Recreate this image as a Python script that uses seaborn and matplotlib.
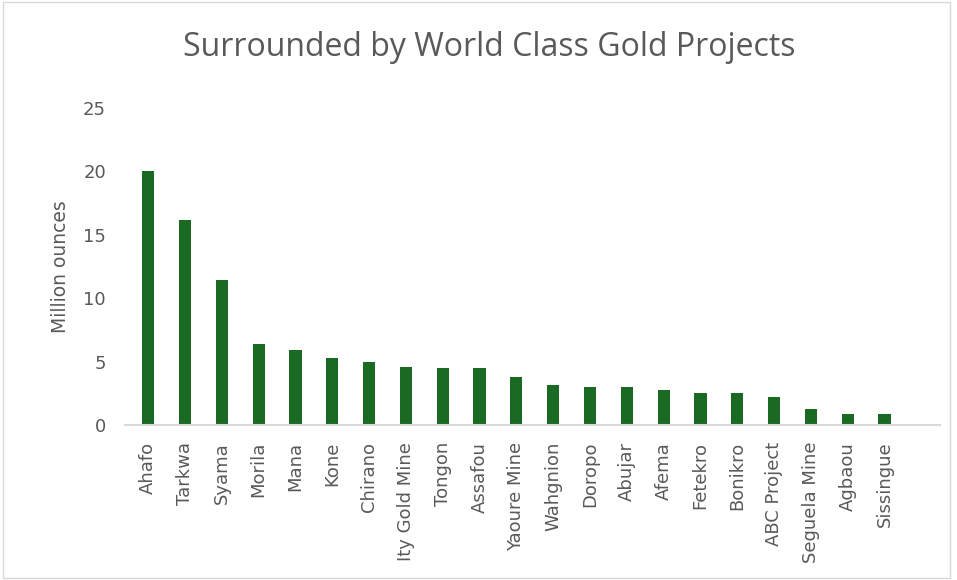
import matplotlib
matplotlib.use("Agg")
import matplotlib.pyplot as plt
import seaborn as sns
import pandas as pd
from matplotlib.patches import Rectangle

projects = ["Ahafo", "Tarkwa", "Syama", "Morila", "Mana", "Kone", "Chirano",
            "Ity Gold Mine", "Tongon", "Assafou", "Yaoure Mine", "Wahgnion",
            "Doropo", "Abujar", "Afema", "Fetekro", "Bonikro", "ABC Project",
            "Seguela Mine", "Agbaou", "Sissingue"]
ounces = [20.0, 16.2, 11.4, 6.4, 5.9, 5.3, 5.0,
          4.6, 4.5, 4.5, 3.8, 3.2,
          3.0, 3.0, 2.8, 2.5, 2.5, 2.2,
          1.3, 0.9, 0.9]
title = "Surrounded by World Class Gold Projects"
ylabel = "Million ounces"
yticks = [0, 5, 10, 15, 20, 25]

df = pd.DataFrame({"project": projects, "ounces": ounces})

sns.set_theme(style="white")
plt.rcParams["font.family"] = ["DejaVu Sans"]
text_color = "#595959"

fig = plt.figure(figsize=(9.57, 5.8), dpi=100)
ax = fig.add_axes([0.131, 0.267, 0.851, 0.547])

sns.barplot(data=df, x="project", y="ounces", color="#1b6a23", width=0.33,
            saturation=1, ax=ax, edgecolor="#1b6a23", linewidth=0)

ax.set_ylim(0, 25)
ax.set_xlim(-0.62, 21.5)
ax.set_yticks(yticks)
ax.set_yticklabels([str(v) for v in yticks], fontsize=13, color=text_color)
ax.tick_params(axis="x", labelrotation=90, labelsize=13, colors=text_color, length=0, pad=12)
ax.tick_params(axis="y", length=0, pad=14)
for lab in ax.get_xticklabels():
    lab.set_color(text_color)
ax.set_xlabel("")
ax.set_ylabel(ylabel, fontsize=13.5, color=text_color, labelpad=9)
for s in ["top", "right", "left"]:
    ax.spines[s].set_visible(False)
ax.spines["bottom"].set_color("#d9d9d9")
ax.spines["bottom"].set_linewidth(1.5)
ax.grid(False)

fig.text(0.511, 0.918, title, ha="center", va="center", fontsize=23,
         color=text_color, family=["Open Sans", "DejaVu Sans"])

fig.patches.append(Rectangle((0.003, 0.003), 0.99, 0.993, transform=fig.transFigure,
                             fill=False, edgecolor="#d9d9d9", linewidth=1))

fig.savefig("out.png", dpi=100)
